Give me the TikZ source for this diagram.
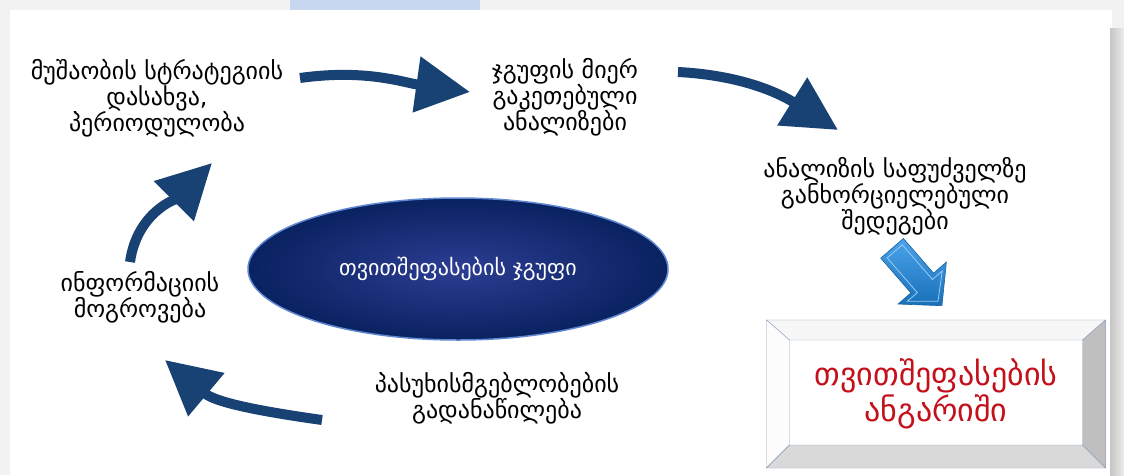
\documentclass[tikz,border=0pt]{standalone}
\usepackage{fontspec}
\setmainfont{DejaVu Sans}
\usetikzlibrary{arrows.meta,positioning,shapes.geometric}

\definecolor{arrowblue}{RGB}{24,66,115}
\definecolor{navy}{RGB}{9,34,96}
\definecolor{navyrim}{RGB}{95,135,210}
\definecolor{framecol}{RGB}{140,160,190}
\definecolor{reportred}{RGB}{196,16,26}
\definecolor{skyblue}{RGB}{30,140,230}
\definecolor{topstrip}{RGB}{200,215,240}

\begin{document}
\begin{tikzpicture}[x=1pt,y=1pt,
                    every text node part/.style={align=center},
                    txt/.style={font=\fontsize{24}{26}\selectfont,inner sep=0pt},
                    bigarrow/.style={line width=10pt,draw=arrowblue,
                                     -{Triangle[width=54pt,length=54pt]}},
                    group/.style={ellipse,minimum width=420pt,minimum height=142pt,
                                  inner sep=0pt,text=white,draw=navyrim,line width=1.5pt,
                                  inner color=navy!80!blue!85!white,outer color=navy,
                                  font=\fontsize{22}{24}\selectfont},
                    report/.style={rectangle,minimum width=338pt,minimum height=147pt,
                                   draw=framecol,line width=1pt,text=reportred,
                                   font=\fontsize{32}{34}\selectfont}]

  % background and frame
  \useasboundingbox (0,-475) rectangle (1124,0);
  \fill[gray!10] (0,-475) rectangle (1124,0);
  \fill[white] (10,-475) rectangle (1112,-10);
  \fill[topstrip] (290,0) rectangle (480,-10);
  \shade[left color=gray!45,right color=gray!15] (1110,-28) rectangle (1124,-475);

  % texts around the circle
  \node[txt] (strat) at (157,-98) {მუშაობის სტრატეგიის\\დასახვა,\\პერიოდულობა};
  \node[txt] (anal)  at (565,-97) {ჯგუფის მიერ\\გაკეთებული\\ანალიზები};
  \node[txt] (res)   at (895,-196) {ანალიზის საფუძველზე\\განხორციელებული\\შედეგები};
  \node[txt] (info)  at (140,-297) {ინფორმაციის\\მოგროვება};
  \node[txt] (resp)  at (497,-398) {პასუხისმგებლობების\\გადანაწილება};

  \node[group] (grp) at (458,-269) {თვითშეფასების ჯგუფი};

  % report box with bevel
  \node[report] (rep) at (936,-394) {თვითშეფასების\\ანგარიში};
  \coordinate (inw) at ([shift={(23,-20)}]rep.north west);
  \coordinate (ine) at ([shift={(-23,-20)}]rep.north east);
  \coordinate (ise) at ([shift={(-23,23)}]rep.south east);
  \coordinate (isw) at ([shift={(23,23)}]rep.south west);
  \filldraw[draw=framecol,fill=gray!6] (rep.north west) -- (rep.north east) -- (ine) -- (inw) -- cycle;
  \filldraw[draw=framecol,fill=gray!2] (rep.north west) -- (inw) -- (isw) -- (rep.south west) -- cycle;
  \filldraw[draw=framecol,fill=gray!50] (rep.north east) -- (rep.south east) -- (ise) -- (ine) -- cycle;
  \filldraw[draw=framecol,fill=gray!30] (rep.south west) -- (isw) -- (ise) -- (rep.south east) -- cycle;

  % block arrow from the results to the report
  \shade[shift={(917,-277)},rotate=-49,draw=skyblue!70!black,line width=0.6pt,
         top color=skyblue!80!white,bottom color=skyblue!80!black]
    (-38,-15) -- (8,-15) -- (8,-32) -- (38,0) -- (8,32) -- (8,15) -- (-38,15) -- cycle;
  \draw[shift={(917,-277)},rotate=-49,white!55!skyblue,line width=0.8pt]
    (-34,-10) -- (12,-10) -- (12,-23) -- (32,0) -- (12,23) -- (12,10) -- (-34,10) -- cycle;

  % the cycle
  \draw[bigarrow] ([shift={(143,20)}]strat.center) to[out=8,in=172] ([shift={(-95,5)}]anal.center);
  \draw[bigarrow] ([shift={(113,25)}]anal.center) to[out=-3,in=148] ([shift={(-57,66)}]res.center);
  \draw[bigarrow] ([shift={(-175,-22)}]resp.center) to[out=172,in=-40] ([shift={(25,-63)}]info.center);
  \draw[bigarrow] ([shift={(-10,35)}]info.center) to[out=82,in=225] ([shift={(55,-65)}]strat.center);

\end{tikzpicture}
\end{document}
